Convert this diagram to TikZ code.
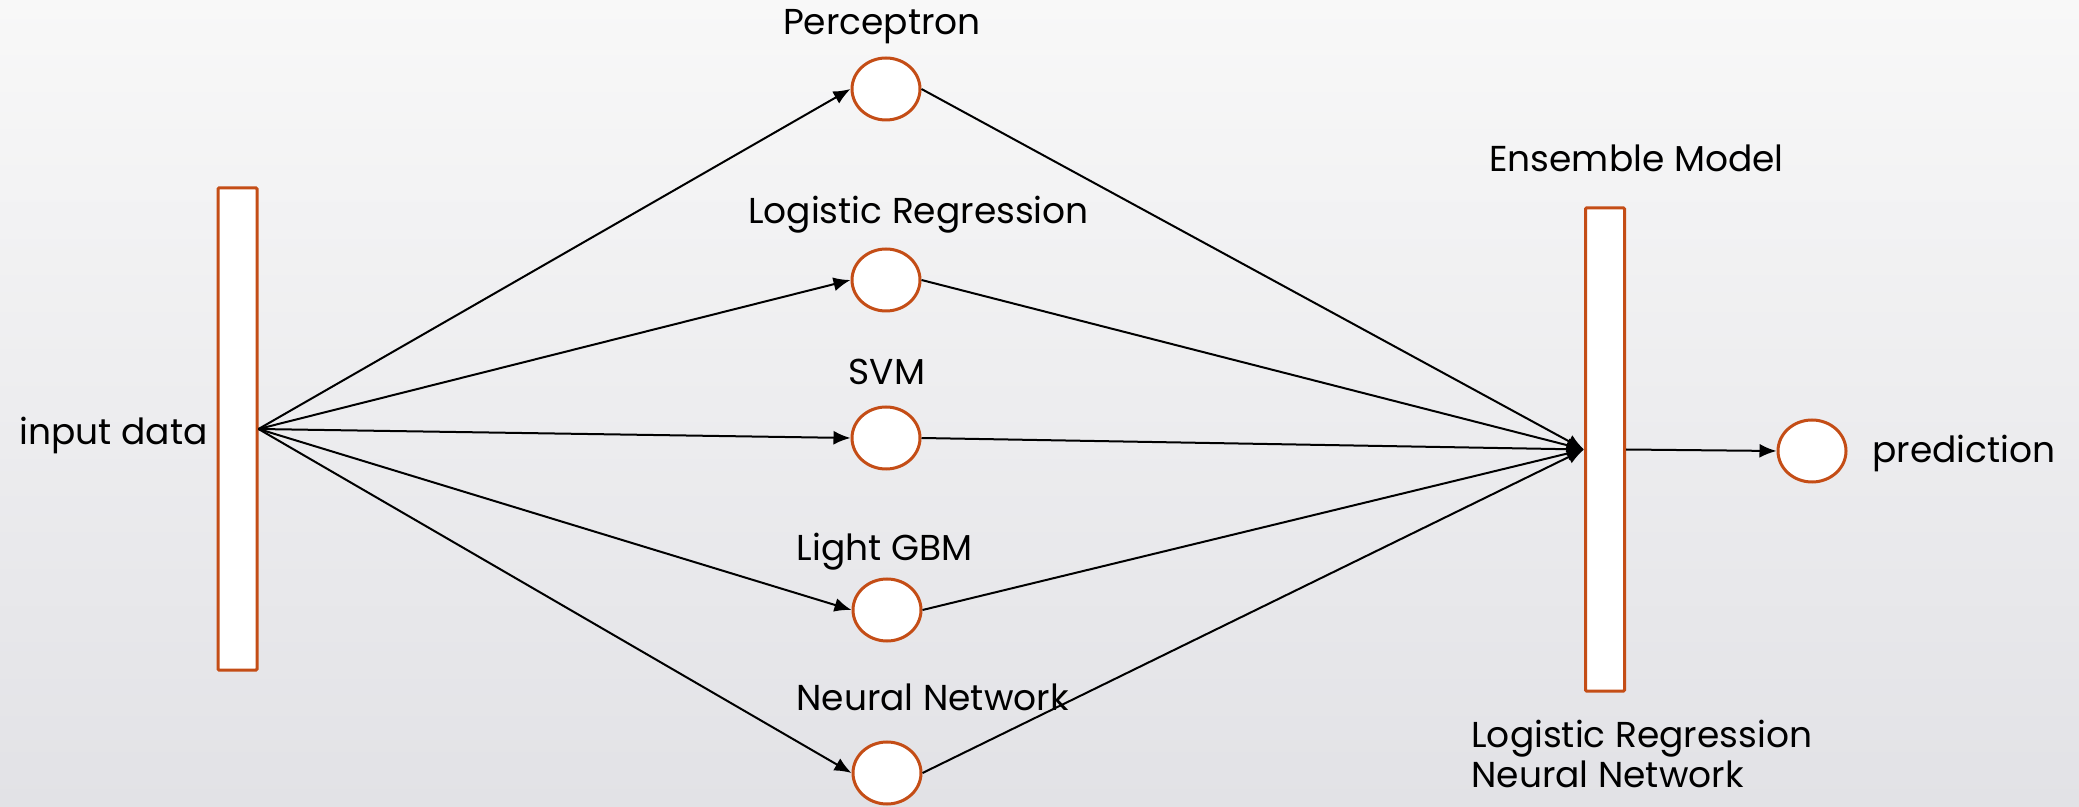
\documentclass[tikz,border=0pt]{standalone}
\usepackage{fontspec}
\setmainfont{Poppins}
\usetikzlibrary{arrows.meta,shapes.geometric}
\definecolor{boxorange}{RGB}{196,77,22}
\definecolor{bgtop}{RGB}{248,248,248}
\definecolor{bgbot}{RGB}{226,226,230}
\begin{document}
\begin{tikzpicture}[x=0.5pt,y=-0.5pt,
  bar/.style={draw=boxorange,fill=white,line width=1.5pt,rectangle,inner sep=0pt,minimum width=19.5pt,rounded corners=0.5pt},
  unit/.style={draw=boxorange,fill=white,line width=1.5pt,ellipse,inner sep=0pt,minimum width=34pt,minimum height=31pt},
  lbl/.style={inner sep=0pt,anchor=base,font=\fontsize{18}{22}\selectfont},
  conn/.style={line width=1pt,-{Latex[length=8.5pt,width=7pt]}}]
\useasboundingbox (0,0) rectangle (2079,807);
\shade[top color=bgtop,bottom color=bgbot] (0,0) rectangle (2079,807);
% bars
\node[bar,minimum height=241pt] (inbar) at (237.5,429) {};
\node[bar,minimum height=241.5pt] (rbar) at (1605,449.5) {};
% ellipses
\node[unit] (perc) at (886,89) {};
\node[unit] (logr) at (886,280) {};
\node[unit] (svm) at (886,438) {};
\node[unit] (lgbm) at (887,610) {};
\node[unit] (nn) at (887,773) {};
\node[unit] (pred) at (1812,451) {};
% labels
\node[lbl] (tperc) at (882,35) {Perceptron};
\node[lbl] (tlogr) at (918.5,224) {Logistic Regression};
\node[lbl] (tsvm) at (887,385) {SVM};
\node[lbl] (tlgbm) at (884.5,561) {Light GBM};
\node[lbl] (tnn) at (932.5,710) {Neural Network};
\node[lbl] (tin) at (113.5,445) {input data};
\node[lbl] (tens) at (1636.5,172) {Ensemble Model};
\node[lbl,anchor=base west] (tpred) at (1872,463) {prediction};
\node[lbl,anchor=base west] (tens1) at (1471,747) {Logistic Regression};
\node[lbl,anchor=base west] (tens2) at (1471,787) {Neural Network};
% connectors
\foreach \n in {perc,logr,svm,lgbm,nn}{
  \draw[conn] (inbar.east) -- (\n.west);
  \draw[conn] (\n.east) -- (rbar.west);
}
\draw[conn] (rbar.east) -- (pred.west);
\end{tikzpicture}
\end{document}
